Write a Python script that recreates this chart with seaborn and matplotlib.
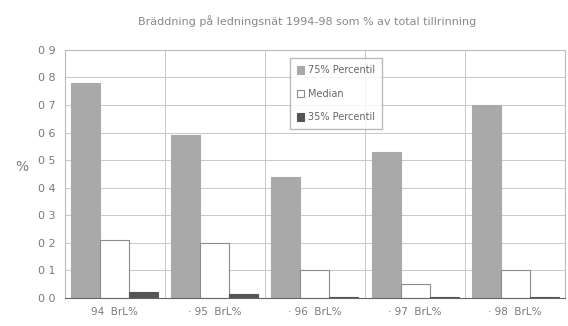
import matplotlib
matplotlib.use("Agg")
import matplotlib.pyplot as plt
import seaborn as sns
import pandas as pd

categories = ["94 BrL%", "95 BrL%", "96 BrL%", "97 BrL%", "98 BrL%"]
tick_labels = ["94  BrL%", "· 95  BrL%", "· 96  BrL%", "· 97  BrL%", "· 98  BrL%"]
series = ["75% Percentil", "Median", "35% Percentil"]
p75 = [0.78, 0.59, 0.44, 0.53, 0.70]
median = [0.21, 0.20, 0.10, 0.05, 0.10]
p35 = [0.022, 0.016, 0.004, 0.003, 0.003]

rows = []
for s, vals in zip(series, [p75, median, p35]):
    for c, v in zip(categories, vals):
        rows.append({"cat": c, "series": s, "val": v})
df = pd.DataFrame(rows)

sns.set_style("white")
plt.rcParams['font.family'] = ['DejaVu Sans']
txt = "#7a7a7a"
fig = plt.figure(figsize=(5.68, 3.26), dpi=100)
ax = fig.add_axes([0.114, 0.086, 0.881, 0.761])
colors = ["#a9a9a9", "#ffffff", "#555555"]
edges = ["#a9a9a9", "#8a8a8a", "#555555"]
sns.barplot(data=df, x="cat", y="val", hue="series", palette=colors,
            width=0.87, ax=ax, saturation=1, legend=True)
for bar_container, ec in zip(ax.containers, edges):
    for p in bar_container:
        p.set_edgecolor(ec)
        p.set_linewidth(0.8)
ax.set_ylim(0, 0.9)
ax.set_xlim(-0.5, 4.5)
ax.set_yticks([i / 10 for i in range(10)])
ax.set_yticklabels(["0 0", "0 1", "0 2", "0 3", "0 4", "0 5", "0 6", "0 7", "0 8", "0 9"],
                   fontsize=8, color=txt)
ax.set_xticks(range(5))
ax.set_xticklabels(tick_labels, fontsize=7.5, color=txt)
ax.set_xlabel("")
ax.set_ylabel("%", fontsize=10, color=txt, rotation=0, labelpad=12)
for y in [i / 10 for i in range(1, 10)]:
    ax.axhline(y, color="#c8c8c8", lw=0.7, zorder=0)
for x in [0.5, 1.5, 2.5, 3.5]:
    ax.axvline(x, color="#c8c8c8", lw=0.7, zorder=0)
for s in ax.spines.values():
    s.set_color("#bbbbbb")
    s.set_linewidth(0.8)
ax.spines["bottom"].set_color("#666666")
ax.tick_params(axis="both", length=3, color="#999999")
leg = ax.legend(loc="upper left", bbox_to_anchor=(0.44, 0.985), fontsize=7,
                frameon=True, fancybox=False, edgecolor="#aaaaaa",
                handlelength=0.8, handleheight=0.8, labelspacing=1.4,
                borderpad=0.7, handletextpad=0.4)
for h, ec in zip(leg.legend_handles, edges):
    h.set_edgecolor(ec)
    h.set_linewidth(0.8)
for t in leg.get_texts():
    t.set_color("#666666")
fig.suptitle("Bräddning på ledningsnät 1994-98 som % av total tillrinning",
             x=0.54, y=0.955, fontsize=8, color="#888888")
fig.savefig("out.png", dpi=100)
